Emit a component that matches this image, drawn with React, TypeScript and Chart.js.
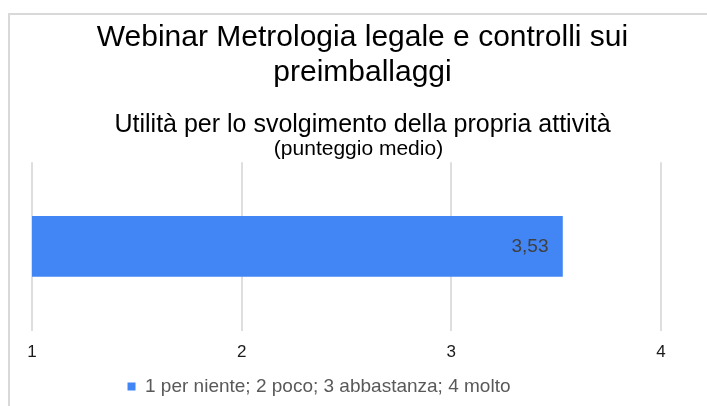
import React, { useEffect, useRef } from 'react';
import { Chart, registerables } from 'chart.js';

Chart.register(...registerables);

// ---- data ----
const TITLE_LINES = ['Webinar Metrologia legale e controlli sui', 'preimballaggi'];
const SUBTITLE = 'Utilità per lo svolgimento della propria attività';
const SUBTITLE_NOTE = '(punteggio medio)';
const CATEGORIES = [''];
const SERIES_LABEL = '1 per niente; 2 poco; 3 abbastanza; 4 molto';
const SERIES_VALUES = [3.53];
const X_MIN = 1;
const X_MAX = 4;
const X_STEP = 1;

// ---- style ----
const FONT = 'Arial, "Liberation Sans", sans-serif';
const BAR_COLOR = '#4285f4';
const GRID_COLOR = '#dedede';
const PAD_LEFT = 8;
const LEGEND_RIGHT_TRIM = 87;
const NOTE_OFFSET = 13;

const fmt = (v: number) => v.toFixed(2).replace('.', ',');

const valueLabels = {
  id: 'valueLabels',
  afterDatasetsDraw(chart: any) {
    const ctx = chart.ctx;
    chart.data.datasets.forEach((ds: any, di: number) => {
      const meta = chart.getDatasetMeta(di);
      meta.data.forEach((el: any, i: number) => {
        const v = ds.data[i];
        const { x, y } = el.getProps(['x', 'y'], true);
        ctx.save();
        ctx.font = `19px ${FONT}`;
        ctx.fillStyle = '#404040';
        ctx.textAlign = 'right';
        ctx.textBaseline = 'middle';
        ctx.fillText(fmt(v), x - 14, y);
        ctx.restore();
      });
    });
  },
};

const subtitleNote = {
  id: 'subtitleNote',
  afterDraw(chart: any) {
    const ctx = chart.ctx;
    ctx.save();
    ctx.font = `21px ${FONT}`;
    ctx.fillStyle = '#000000';
    ctx.textAlign = 'center';
    ctx.textBaseline = 'middle';
    ctx.fillText(SUBTITLE_NOTE, chart.width / 2, chart.chartArea.top - NOTE_OFFSET);
    ctx.restore();
  },
};

const legendOffset = {
  id: 'legendOffset',
  afterLayout(chart: any) {
    const lg = chart.legend;
    if (lg) lg.right -= LEGEND_RIGHT_TRIM;
  },
};

export default function App() {
  const ref = useRef<HTMLCanvasElement>(null);

  useEffect(() => {
    if (!ref.current) return;
    const chart = new Chart(ref.current, {
      type: 'bar',
      data: {
        labels: CATEGORIES,
        datasets: [
          {
            label: SERIES_LABEL,
            data: SERIES_VALUES,
            backgroundColor: BAR_COLOR,
            borderWidth: 0,
            barThickness: 60,
          },
        ],
      },
      plugins: [valueLabels, subtitleNote, legendOffset],
      options: {
        indexAxis: 'y',
        animation: false,
        responsive: true,
        maintainAspectRatio: false,
        layout: { padding: { left: PAD_LEFT, right: 0, top: 0, bottom: 0 } },
        scales: {
          x: {
            type: 'linear',
            min: X_MIN,
            max: X_MAX,
            ticks: {
              stepSize: X_STEP,
              color: '#1a1a1a',
              font: { family: FONT, size: 17 },
              padding: 12,
              callback: (v: any) => String(v),
            },
            grid: { color: GRID_COLOR, lineWidth: 2, drawTicks: false },
            border: { display: false },
          },
          y: {
            type: 'category',
            display: true,
            ticks: { display: false },
            grid: { display: false, drawTicks: false },
            border: { display: false },
            afterFit: (s: any) => {
              s.width = 14;
            },
          },
          y2: {
            type: 'linear',
            position: 'right',
            display: true,
            ticks: { display: false },
            grid: { display: false, drawTicks: false },
            border: { display: false },
            afterFit: (s: any) => {
              s.width = 46;
            },
          },
        },
        plugins: {
          title: {
            display: true,
            text: TITLE_LINES,
            color: '#000000',
            font: { family: FONT, size: 30, weight: 'normal', lineHeight: 1.17 },
            padding: { top: 5, bottom: 8 },
          },
          subtitle: {
            display: true,
            text: SUBTITLE,
            color: '#000000',
            font: { family: FONT, size: 25, weight: 'normal', lineHeight: 1.2 },
            padding: { top: 12, bottom: 22 },
          },
          legend: {
            display: true,
            position: 'bottom',
            labels: {
              boxWidth: 8,
              boxHeight: 8,
              padding: 2,
              color: '#595959',
              font: { family: FONT, size: 19 },
            },
          },
          tooltip: { enabled: false },
        },
      },
    } as any);
    return () => chart.destroy();
  }, []);

  return (
    <div
      style={{
        position: 'fixed',
        left: 8,
        top: 13,
        width: 699,
        height: 393,
        boxSizing: 'border-box',
        borderTop: '2px solid #d9d9d9',
        borderLeft: '2px solid #d9d9d9',
        background: '#ffffff',
      }}
    >
      <div style={{ position: 'relative', width: 697, height: 391 }}>
        <canvas ref={ref} />
      </div>
    </div>
  );
}
